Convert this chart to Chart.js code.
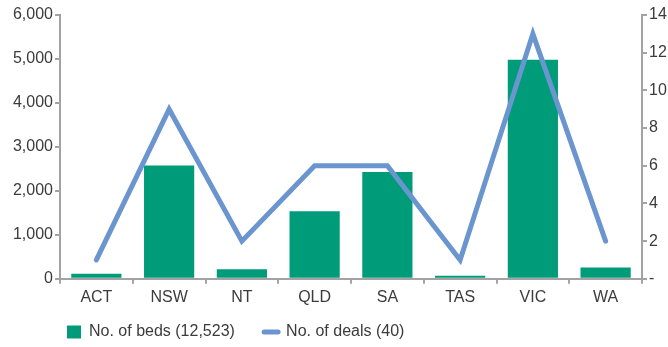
<!DOCTYPE html>
<html>
<head>
<meta charset="utf-8">
<script src="https://cdn.jsdelivr.net/npm/chart.js@4"></script>
<style>
  html, body { margin: 0; padding: 0; background: #fff; }
  #wrap { width: 668px; height: 347px; }
</style>
</head>
<body>
<div id="wrap"><canvas id="bedsChart" width="668" height="347"></canvas></div>
<script>
// chart values
const states = ['ACT', 'NSW', 'NT', 'QLD', 'SA', 'TAS', 'VIC', 'WA'];
const beds = [115, 2575, 215, 1535, 2430, 70, 4980, 255];
const deals = [1, 9, 2, 6, 6, 1, 13, 2];
const bedsLabel = 'No. of beds (12,523)';
const dealsLabel = 'No. of deals (40)';

const axisGrey = '#a3a3a3';
const textGrey = '#3b3b3b';

Chart.defaults.font.family = "'Liberation Sans', Arial, sans-serif";
Chart.defaults.font.size = 16;
Chart.defaults.color = textGrey;

const ctx = document.getElementById('bedsChart').getContext('2d');
const chart = new Chart(ctx, {
  type: 'bar',
  data: {
    labels: states,
    datasets: [
      {
        type: 'line',
        label: dealsLabel,
        data: deals,
        yAxisID: 'yDeals',
        borderColor: '#6a95cf',
        backgroundColor: '#6a95cf',
        borderWidth: 5,
        borderCapStyle: 'round',
        borderJoinStyle: 'miter',
        pointRadius: 0,
        pointStyle: 'line',
        tension: 0,
        fill: false,
        order: 1
      },
      {
        type: 'bar',
        label: bedsLabel,
        data: beds,
        yAxisID: 'yBeds',
        backgroundColor: '#009b78',
        borderWidth: 0,
        pointStyle: 'rect',
        categoryPercentage: 1,
        barPercentage: 0.69,
        order: 2
      }
    ]
  },
  options: {
    responsive: false,
    animation: false,
    layout: { padding: { top: 15, left: 0, right: 0, bottom: -3 } },
    plugins: {
      tooltip: { enabled: false },
      legend: {
        position: 'bottom',
        align: 'start',
        fullSize: false,
        reverse: true,
        labels: {
          usePointStyle: true,
          pointStyleWidth: 14,
          boxHeight: 13,
          padding: 7,
          color: textGrey,
          font: { size: 16 },
          generateLabels(chart) {
            const items = Chart.defaults.plugins.legend.labels.generateLabels(chart);
            items.forEach(item => {
              if (item.text === bedsLabel) {
                item.text = bedsLabel + '\u00A0\u00A0\u00A0\u00A0\u00A0';
              } else {
                item.lineWidth = 5;
                item.lineCap = 'round';
              }
            });
            return items;
          }
        }
      }
    },
    scales: {
      x: {
        offset: true,
        grid: {
          display: true,
          offset: true,
          drawOnChartArea: false,
          drawTicks: true,
          tickLength: 5,
          color: axisGrey,
          lineWidth: 2
        },
        border: { display: true, color: axisGrey, width: 2 },
        ticks: { padding: 4, color: textGrey, font: { size: 16 } },
        afterFit(scale) { scale.height += 6; }
      },
      yBeds: {
        position: 'left',
        min: 0,
        max: 6000,
        grid: {
          display: true,
          drawOnChartArea: false,
          drawTicks: true,
          tickLength: 5,
          color: axisGrey,
          lineWidth: 2
        },
        border: { display: true, color: axisGrey, width: 2 },
        ticks: {
          stepSize: 1000,
          padding: 2,
          color: textGrey,
          font: { size: 16 },
          callback: v => v.toLocaleString('en-US')
        },
        afterFit(scale) { scale.width = 60; }
      },
      yDeals: {
        position: 'right',
        min: 0,
        max: 14,
        grid: {
          display: true,
          drawOnChartArea: false,
          drawTicks: true,
          tickLength: 5,
          color: axisGrey,
          lineWidth: 2
        },
        border: { display: true, color: axisGrey, width: 2 },
        ticks: {
          stepSize: 2,
          padding: 2,
          color: textGrey,
          font: { size: 16 },
          callback: v => (v === 0 ? '-' : v)
        },
        afterFit(scale) { scale.width = 26; }
      }
    }
  }
});
</script>
</body>
</html>
